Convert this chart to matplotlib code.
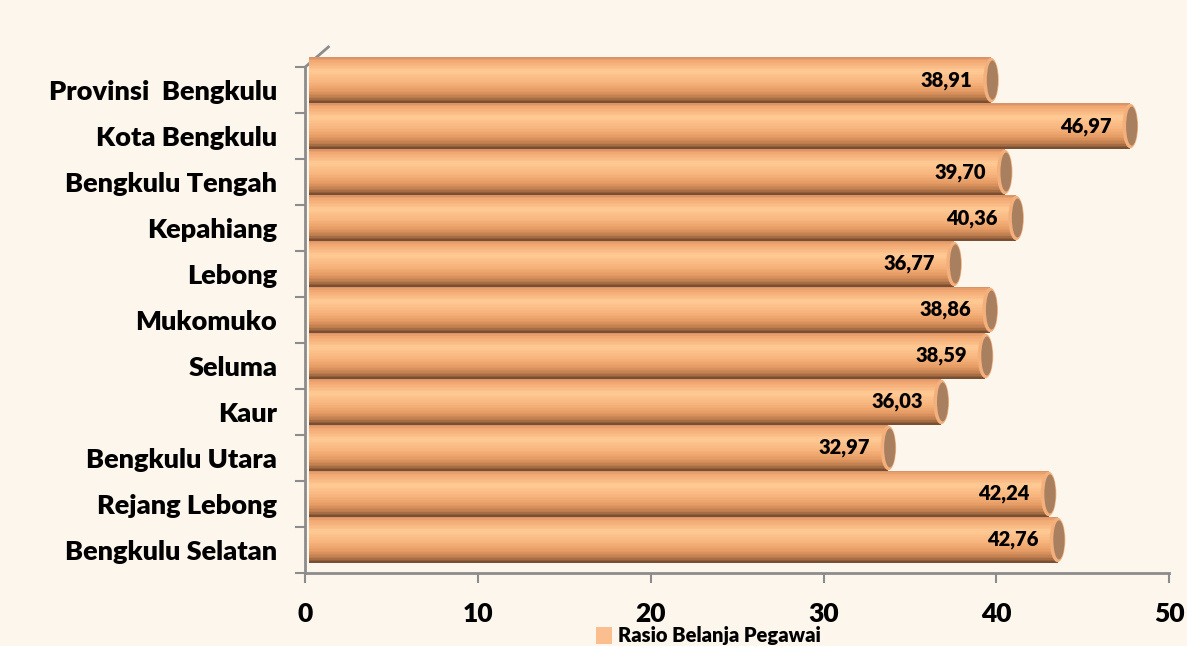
import numpy as np
import matplotlib.pyplot as plt
from matplotlib.patches import Ellipse, Patch

plt.rcParams['font.family'] = ['Lato', 'DejaVu Sans']
plt.rcParams['font.weight'] = 'heavy'

# data (bottom to top)
daerah = ['Bengkulu Selatan', 'Rejang Lebong', 'Bengkulu Utara', 'Kaur', 'Seluma',
          'Mukomuko', 'Lebong', 'Kepahiang', 'Bengkulu Tengah', 'Kota Bengkulu',
          'Provinsi  Bengkulu']
rasio = [42.76, 42.24, 32.97, 36.03, 38.59, 38.86, 36.77, 40.36, 39.70, 46.97, 38.91]
label_seri = 'Rasio Belanja Pegawai'

bg = '#FDF6ED'
fig = plt.figure(figsize=(11.87, 6.46), dpi=100, facecolor=bg)
ax = fig.add_axes([0.257, 0.113, 0.728, 0.783], facecolor=bg)

# gradasi warna silinder (atas -> bawah)
stops = [0.0, 0.06, 0.3, 0.55, 0.75, 0.9, 1.0]
cols = ['#D99468', '#F2A770', '#FFCA94', '#F7B47D', '#E59A63', '#B97A4C', '#7A4F31']
rgb = np.array([[int(c[i:i + 2], 16) / 255 for i in (1, 3, 5)] for c in cols])
N = 30
t = np.linspace(0, 1, N)
grad = np.column_stack([np.interp(t, stops, rgb[:, k]) for k in range(3)])

h = 1.0      # tinggi batang
dy = 0.22    # geser 3D
dx = 0.78
y = np.arange(len(daerah))

for i, v in enumerate(rasio):
    for k in range(N):
        yk = y[i] + dy + h / 2 - (k + 0.5) * h / N
        ax.barh(yk, v + dx - 0.25, left=0.25, height=h / N * 1.05,
                color=grad[k], linewidth=0, clip_on=False, zorder=2 + i * 0.01)
    ax.add_patch(Ellipse((v + dx, y[i] + dy), 0.9, h * 0.97, facecolor='#F3B07C',
                         edgecolor='none', clip_on=False, zorder=3))
    ax.add_patch(Ellipse((v + dx + 0.08, y[i] + dy), 0.65, h * 0.85, facecolor='#A9805F',
                         edgecolor='none', clip_on=False, zorder=3))
    ax.text(v - 0.3, y[i] + dy, f'{v:.2f}'.replace('.', ','), ha='right', va='center',
            fontsize=14.5, fontweight='heavy', color='black', zorder=5)

ax.set_xlim(0, 50)
ax.set_ylim(-0.5, 10.5)
ax.set_xticks(range(0, 51, 10))
ax.set_yticks(y)
ax.set_yticklabels(daerah, fontsize=19.5, fontweight='heavy')
ax.set_yticks(np.arange(-0.5, 11, 1), minor=True)
ax.tick_params(axis='y', which='major', length=0, pad=20)
ax.tick_params(axis='y', which='minor', length=7, width=1.5, color='#8C8C8C')
ax.tick_params(axis='x', length=7, width=1.5, color='#8C8C8C', pad=14, labelsize=19)
for lb in ax.get_xticklabels():
    lb.set_fontweight('heavy')

for s in ['top', 'right']:
    ax.spines[s].set_visible(False)
for s in ['left', 'bottom']:
    ax.spines[s].set_color('#8C8C8C')
    ax.spines[s].set_linewidth(2)
    ax.spines[s].set_zorder(1)

# garis kedalaman 3D
ax.plot([0, 0.027], [1, 1.04], transform=ax.transAxes, color='#8C8C8C', lw=2, clip_on=False)

fig.legend(handles=[Patch(facecolor='#FBBE8E', label=label_seri)], loc='center',
           bbox_to_anchor=(0.597, 0.016),
           prop={'weight': 'heavy', 'size': 14.5}, frameon=False,
           handlelength=0.8, handleheight=0.9, handletextpad=0.3, borderpad=0.1)

fig.savefig('out.png', dpi=100, facecolor=bg)
